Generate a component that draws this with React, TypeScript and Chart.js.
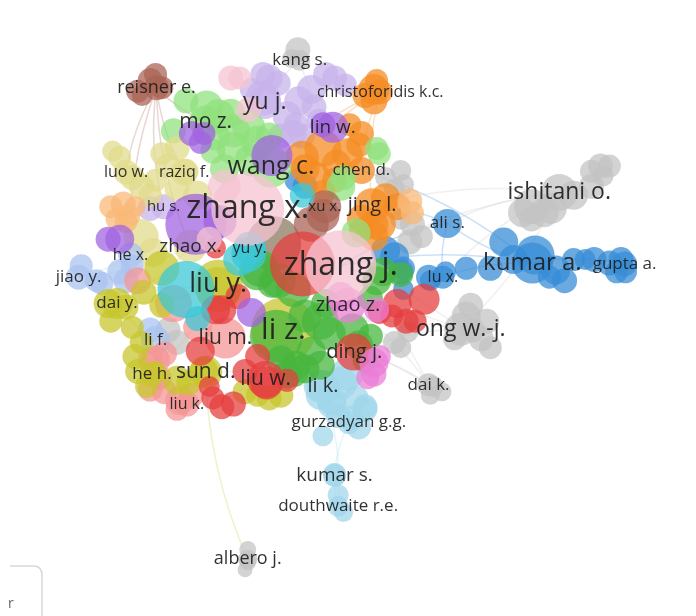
import React, { useEffect, useRef } from "react";
import { Chart, registerables } from "chart.js";

Chart.register(...registerables);

// Layout units: 1 unit = 10 px of the 696 x 616 map, y grows downward.
const X_EXTENT = 69.6;
const Y_EXTENT = 61.6;

// Cluster colours (r,g,b)
const clusterColors: Record<string, string> = {
  red: "230,62,62",
  green: "72,182,62",
  blue: "55,140,215",
  olive: "200,198,45",
  purple: "160,100,225",
  cyan: "60,200,215",
  orange: "245,140,35",
  brown: "170,100,85",
  magenta: "235,125,215",
  gray: "196,196,196",
  skyblue: "160,215,235",
  mint: "145,225,125",
  lavender: "200,180,235",
  salmon: "245,150,150",
  sand: "225,220,140",
  peach: "250,185,120",
  rose: "245,195,210",
  periwinkle: "170,195,240",
  taupe: "140,120,95",
};

// Labelled authors: [name, x, y, node size, font size, cluster]
const labelledAuthors: [string, number, number, number, number, string][] = [
  ["kang s.", 29.4, 2.7, 8, 17, "gray"],
  ["reisner e.", 13.4, 5.8, 10, 18, "brown"],
  ["yu j.", 25.5, 7.5, 14, 23, "lavender"],
  ["christoforidis k.c.", 38.4, 6.3, 10, 16, "orange"],
  ["mo z.", 18.9, 9.7, 14, 21, "mint"],
  ["lin w.", 33.1, 10.3, 13, 19, "purple"],
  ["wang c.", 26.2, 14.8, 18, 25, "mint"],
  ["luo w.", 10.0, 15.4, 10, 16, "sand"],
  ["raziq f.", 16.5, 15.4, 11, 16, "sand"],
  ["chen d.", 36.3, 15.2, 11, 17, "orange"],
  ["hu s.", 14.2, 19.3, 10, 15, "lavender"],
  ["zhang x.", 23.6, 19.6, 34, 32, "rose"],
  ["xu x.", 32.2, 19.3, 14, 15, "brown"],
  ["jing l.", 37.5, 19.2, 15, 20, "orange"],
  ["ali s.", 45.9, 21.2, 12, 17, "blue"],
  ["ishitani o.", 58.4, 17.7, 16, 23, "gray"],
  ["kumar a.", 55.4, 25.7, 18, 24, "blue"],
  ["gupta a.", 65.7, 25.8, 10, 17, "blue"],
  ["lu x.", 45.4, 27.3, 9, 16, "blue"],
  ["zhang j.", 34.0, 26.0, 33, 32, "rose"],
  ["he x.", 10.5, 24.8, 10, 16, "periwinkle"],
  ["zhao x.", 17.2, 23.8, 14, 19, "sand"],
  ["yu y.", 23.8, 24.0, 14, 16, "cyan"],
  ["jiao y.", 4.7, 27.3, 10, 17, "periwinkle"],
  ["liu y.", 20.3, 28.1, 22, 27, "olive"],
  ["zhao z.", 34.8, 30.5, 15, 20, "magenta"],
  ["ong w.-j.", 47.4, 33.2, 14, 23, "gray"],
  ["li z.", 27.6, 33.3, 30, 30, "olive"],
  ["dai y.", 9.0, 30.3, 13, 17, "olive"],
  ["li f.", 13.3, 34.5, 12, 17, "periwinkle"],
  ["liu m.", 21.1, 34.2, 18, 21, "salmon"],
  ["ding j.", 35.5, 35.8, 16, 20, "red"],
  ["he h.", 12.9, 38.3, 10, 17, "olive"],
  ["sun d.", 18.9, 38.1, 14, 21, "olive"],
  ["liu w.", 25.6, 38.9, 16, 21, "red"],
  ["li k.", 32.0, 39.7, 14, 20, "skyblue"],
  ["dai k.", 43.8, 39.5, 9, 17, "gray"],
  ["liu k.", 16.8, 41.7, 10, 16, "salmon"],
  ["gurzadyan g.g.", 34.9, 43.8, 9, 17, "skyblue"],
  ["kumar s.", 33.3, 49.8, 9, 19, "skyblue"],
  ["douthwaite r.e.", 33.7, 53.3, 8, 17, "skyblue"],
  ["albero j.", 23.6, 59.3, 7, 18, "gray"],
];

// Unlabelled authors per cluster: [x, y, node size]
const grayNodes = [
  [29.2, 1.5, 10], [28.5, 2.5, 7],
  [55.3, 19.3, 15], [54.3, 20.0, 12], [56.7, 20.0, 12], [60.0, 18.0, 12], [62.0, 17.0, 10],
  [63.0, 14.7, 10], [64.0, 14.7, 9], [62.0, 15.3, 9], [63.3, 15.8, 8], [55.3, 20.7, 10], [57.5, 19.5, 13],
  [40.7, 15.2, 8], [41.0, 16.8, 8], [40.0, 17.3, 8], [42.0, 21.3, 10], [41.7, 23.3, 10], [43.0, 22.7, 9],
  [40.7, 20.7, 8], [39.0, 16.0, 8],
  [48.0, 31.7, 12], [48.5, 30.5, 10], [50.3, 32.3, 10], [50.7, 35.3, 9], [46.7, 34.3, 9], [49.7, 34.3, 10], [48.7, 33.3, 10],
  [40.0, 34.7, 9], [40.7, 35.3, 8], [41.5, 33.5, 8],
  [44.3, 39.7, 8], [45.3, 40.3, 7], [44.0, 40.7, 7],
  [23.6, 58.2, 6], [23.6, 59.6, 6], [23.3, 60.5, 5],
  [15.7, 34.7, 10], [14.7, 33.3, 10],
];
const blueNodes = [
  [52.2, 23.3, 12], [55.7, 24.8, 17], [53.3, 25.3, 12], [50.7, 26.3, 10], [48.0, 26.3, 9], [45.7, 26.7, 8], [44.0, 27.7, 8],
  [58.0, 26.5, 12], [59.0, 27.7, 10], [57.3, 27.3, 9], [60.0, 25.3, 9], [61.3, 25.3, 8], [62.3, 25.3, 10],
  [64.0, 25.7, 10], [65.3, 25.3, 10], [65.8, 26.7, 9], [64.8, 26.7, 9],
  [40.0, 25.0, 12], [40.7, 26.7, 10], [39.0, 24.3, 12], [41.0, 26.3, 9], [43.8, 27.3, 10], [41.0, 28.7, 8],
  [30.0, 17.0, 10], [29.0, 16.3, 9],
];
const redNodes = [
  [29.7, 25.8, 30], [43.3, 29.8, 13], [40.3, 30.3, 12], [41.3, 32.3, 10], [39.7, 31.7, 9], [42.3, 32.3, 9], [38.3, 31.3, 9],
  [25.7, 39.3, 14], [20.7, 42.0, 10], [22.0, 41.7, 10], [19.7, 41.0, 9], [18.3, 35.7, 12], [19.3, 39.7, 8],
  [24.7, 36.3, 10], [20.0, 24.0, 8], [20.0, 31.0, 12], [20.7, 31.0, 12], [23.3, 38.0, 10], [28.0, 39.0, 9],
  [22.5, 29.5, 10],
];
const greenNodes = [
  [26.8, 34.0, 24], [24.7, 26.7, 16], [26.3, 28.0, 12], [28.7, 28.7, 15], [31.7, 32.3, 16], [32.7, 33.7, 14],
  [35.3, 33.3, 14], [36.0, 35.0, 12], [30.7, 35.7, 12], [31.7, 37.3, 12], [29.0, 37.3, 12], [28.0, 38.3, 12],
  [27.3, 36.7, 12], [36.7, 36.7, 10], [38.0, 27.7, 12], [38.7, 26.7, 12], [40.7, 27.0, 10], [37.3, 29.7, 10],
  [30.0, 31.7, 14], [32.3, 30.3, 12], [37.3, 34.0, 10], [27.0, 27.7, 15], [25.0, 26.3, 16], [28.7, 38.0, 13],
  [30.0, 37.7, 12],
];
const magentaNodes = [
  [38.0, 31.0, 10], [37.7, 37.0, 12], [37.7, 38.3, 10], [38.3, 36.3, 9], [37.0, 38.7, 9], [34.0, 29.5, 12],
];
const roseNodes = [
  [21.7, 4.7, 10], [22.7, 4.7, 9], [23.7, 8.3, 10], [19.3, 23.0, 10], [21.0, 17.0, 14],
];
const purpleNodes = [
  [32.0, 10.0, 10], [17.8, 21.3, 28], [9.3, 23.0, 12], [8.0, 23.0, 10], [17.3, 11.0, 10], [18.7, 11.0, 9],
  [18.3, 12.0, 9], [26.3, 13.5, 18], [24.0, 31.3, 12], [20.5, 21.0, 14],
];
const lavenderNodes = [
  [25.3, 7.0, 15], [26.0, 4.7, 11], [27.0, 5.3, 10], [30.7, 6.0, 12], [29.3, 7.3, 12], [28.0, 9.0, 12],
  [29.0, 10.0, 10], [31.0, 8.0, 10], [33.3, 4.7, 10], [32.3, 4.3, 10], [25.3, 4.3, 10], [29.7, 11.3, 10],
  [28.7, 11.0, 11], [27.3, 11.3, 10], [34.5, 5.5, 9], [31.5, 9.5, 9], [24.0, 6.0, 9], [12.7, 19.5, 10],
];
const orangeNodes = [
  [37.7, 6.0, 13], [36.7, 6.7, 10], [38.0, 5.0, 9], [37.7, 7.3, 11], [36.3, 11.0, 10], [35.0, 10.0, 9],
  [32.0, 12.7, 16], [29.7, 13.7, 14], [34.7, 13.3, 13], [31.0, 16.0, 14], [32.0, 17.7, 10], [36.0, 12.3, 10],
  [33.3, 16.3, 10], [39.0, 18.3, 12], [40.3, 19.3, 11], [36.3, 20.7, 12], [37.7, 21.3, 12], [38.3, 21.3, 14],
  [37.7, 22.7, 12], [36.3, 22.0, 10], [30.0, 15.0, 12], [33.5, 14.5, 12],
];
const mintNodes = [
  [16.7, 7.3, 10], [19.0, 8.0, 14], [20.3, 9.0, 14], [21.7, 8.7, 12], [15.3, 10.7, 10], [20.0, 11.3, 12],
  [22.0, 10.7, 14], [23.7, 10.3, 14], [24.7, 12.0, 14], [22.0, 12.7, 14], [19.7, 13.0, 10], [26.0, 11.3, 11],
  [38.0, 12.7, 9], [34.3, 16.0, 10], [34.0, 17.0, 12], [38.3, 13.3, 9], [35.7, 22.3, 12], [24.0, 14.0, 14],
  [21.0, 15.0, 12],
];
const oliveNodes = [
  [8.0, 30.3, 12], [10.0, 30.7, 10], [8.3, 32.3, 9], [10.7, 33.0, 9], [11.7, 34.7, 9], [11.0, 36.3, 10],
  [11.3, 38.0, 10], [12.3, 39.7, 9], [13.3, 38.0, 8], [15.7, 39.0, 12], [17.0, 39.3, 10], [18.7, 38.0, 12],
  [26.0, 41.0, 10], [27.3, 40.7, 10], [23.3, 40.3, 10], [24.7, 40.7, 9], [20.3, 28.7, 20], [14.0, 26.3, 15],
  [12.0, 29.0, 10], [14.0, 30.5, 10],
];
const cyanNodes = [
  [16.7, 28.7, 26], [23.7, 24.7, 15], [22.7, 25.3, 14], [29.7, 18.0, 10], [18.0, 32.0, 10],
];
const skyblueNodes = [
  [34.7, 38.3, 14], [34.0, 39.3, 14], [31.7, 40.7, 12], [35.7, 41.0, 10], [33.0, 41.7, 12], [36.7, 42.3, 10],
  [33.7, 43.0, 10], [35.0, 43.3, 10], [31.7, 39.7, 14], [33.0, 41.3, 12], [32.0, 45.3, 8], [36.0, 44.3, 10],
  [33.3, 49.7, 9], [33.7, 52.0, 8], [34.3, 54.0, 7], [36.7, 42.0, 10],
];
const salmonNodes = [
  [15.3, 30.3, 16], [13.3, 36.7, 12], [14.3, 40.3, 10], [16.0, 41.3, 12], [17.3, 40.7, 10], [12.7, 36.7, 10],
  [14.3, 36.0, 10], [13.7, 38.7, 10], [12.7, 40.0, 10], [11.3, 27.7, 11], [15.7, 42.3, 9], [18.0, 33.0, 12],
];
const sandNodes = [
  [9.3, 13.7, 9], [10.7, 16.0, 10], [11.7, 17.0, 10], [13.3, 16.3, 9], [14.7, 14.7, 10], [15.7, 12.7, 10],
  [14.0, 13.3, 9], [16.7, 15.3, 10], [15.7, 17.3, 10], [18.0, 18.0, 12], [12.7, 18.0, 9], [11.7, 22.7, 15],
  [13.0, 24.5, 12], [8.5, 13.0, 8],
];
const peachNodes = [
  [8.3, 19.3, 9], [9.7, 19.0, 10], [10.3, 20.3, 9], [9.0, 20.7, 9], [11.0, 19.3, 8], [10.0, 21.0, 9],
  [41.7, 18.7, 10], [42.0, 20.0, 9],
];
const periwinkleNodes = [
  [5.0, 26.0, 9], [6.7, 27.7, 9], [9.3, 26.7, 10], [7.3, 28.0, 9], [10.0, 27.7, 10], [10.7, 26.0, 9], [12.7, 33.3, 10],
];
const brownNodes = [
  [11.3, 6.2, 9], [12.7, 5.0, 10], [13.3, 4.3, 9], [14.0, 5.8, 9], [11.8, 6.7, 8], [30.7, 21.3, 15], [32.0, 20.3, 14],
];
const taupeNodes = [[26.5, 23.5, 25]];

// Co-authorship links between labelled authors
const links: [string, string][] = [
  ["reisner e.", "luo w."], ["reisner e.", "raziq f."], ["reisner e.", "zhao x."], ["reisner e.", "he x."],
  ["reisner e.", "mo z."], ["reisner e.", "hu s."],
  ["kang s.", "yu j."], ["kang s.", "lin w."],
  ["christoforidis k.c.", "lin w."], ["christoforidis k.c.", "jing l."], ["christoforidis k.c.", "wang c."],
  ["christoforidis k.c.", "chen d."],
  ["ali s.", "zhang j."], ["ali s.", "jing l."], ["ali s.", "lu x."], ["ali s.", "kumar a."],
  ["kumar a.", "zhang j."], ["kumar a.", "lu x."], ["kumar a.", "chen d."], ["gupta a.", "kumar a."],
  ["ishitani o.", "jing l."], ["ishitani o.", "zhang j."], ["ishitani o.", "ali s."],
  ["ishitani o.", "lu x."], ["ong w.-j.", "ishitani o."],
  ["ong w.-j.", "zhang j."], ["ong w.-j.", "zhao z."], ["ong w.-j.", "li z."], ["ong w.-j.", "ding j."],
  ["dai k.", "zhao z."], ["dai k.", "zhang j."], ["dai k.", "ding j."], ["dai k.", "li z."],
  ["sun d.", "albero j."],
  ["jiao y.", "he x."], ["jiao y.", "zhao x."], ["jiao y.", "liu y."], ["jiao y.", "dai y."],
  ["dai y.", "liu y."], ["dai y.", "li f."], ["dai y.", "zhao x."], ["he h.", "liu y."],
  ["gurzadyan g.g.", "li k."], ["gurzadyan g.g.", "kumar s."], ["gurzadyan g.g.", "li z."],
  ["kumar s.", "douthwaite r.e."], ["douthwaite r.e.", "li k."],
  ["li k.", "liu w."], ["li k.", "liu k."], ["li k.", "li z."], ["li k.", "sun d."],
];

const clusterNodes: [string, number[][]][] = [
  ["taupe", taupeNodes], ["gray", grayNodes], ["blue", blueNodes], ["lavender", lavenderNodes],
  ["orange", orangeNodes], ["mint", mintNodes], ["sand", sandNodes], ["peach", peachNodes],
  ["periwinkle", periwinkleNodes], ["brown", brownNodes], ["skyblue", skyblueNodes], ["salmon", salmonNodes],
  ["olive", oliveNodes], ["green", greenNodes], ["red", redNodes], ["magenta", magentaNodes],
  ["cyan", cyanNodes], ["purple", purpleNodes], ["rose", roseNodes],
];

const NODE_ALPHA = 0.74;
// extra pixels added to every node radius
const NODE_PAD = 2.5;

export default function App() {
  const canvasRef = useRef<HTMLCanvasElement | null>(null);

  useEffect(() => {
    const canvas = canvasRef.current;
    if (!canvas) return;

    // Chart.js paints dataset 0 last, so the list is reversed to keep the order above.
    const datasets = clusterNodes
      .slice()
      .reverse()
      .map(([name, nodes]) => {
        const pts = nodes.map(([x, y, r]) => ({ x, y, r: r + NODE_PAD }));
        labelledAuthors
          .filter((a) => a[5] === name)
          .forEach((a) => pts.push({ x: a[1], y: a[2], r: a[3] + NODE_PAD }));
        return {
          label: name,
          data: pts,
          backgroundColor: `rgba(${clusterColors[name]},${NODE_ALPHA})`,
          borderWidth: 0,
        };
      });

    const byName: Record<string, [string, number, number, number, number, string]> = {};
    labelledAuthors.forEach((a) => (byName[a[0]] = a));

    const linkPlugin = {
      id: "links",
      beforeDatasetsDraw(chart: any) {
        const { ctx, scales } = chart;
        ctx.save();
        ctx.lineWidth = 1.5;
        links.forEach(([a, b]) => {
          const s = byName[a];
          const t = byName[b];
          if (!s || !t) return;
          const x1 = scales.x.getPixelForValue(s[1]);
          const y1 = scales.y.getPixelForValue(s[2]);
          const x2 = scales.x.getPixelForValue(t[1]);
          const y2 = scales.y.getPixelForValue(t[2]);
          const bend = 0.1;
          const cx = (x1 + x2) / 2 - (y2 - y1) * bend;
          const cy = (y1 + y2) / 2 + (x2 - x1) * bend;
          ctx.strokeStyle = `rgba(${clusterColors[s[5]]},0.26)`;
          ctx.beginPath();
          ctx.moveTo(x1, y1);
          ctx.quadraticCurveTo(cx, cy, x2, y2);
          ctx.stroke();
        });
        ctx.restore();
      },
    };

    const labelPlugin = {
      id: "authorLabels",
      afterDatasetsDraw(chart: any) {
        const { ctx, scales } = chart;
        ctx.save();
        ctx.textAlign = "center";
        ctx.textBaseline = "middle";
        ctx.fillStyle = "rgba(30,30,30,0.92)";
        labelledAuthors.forEach(([name, x, y, , fs]) => {
          ctx.font = `${fs}px "Open Sans", "Noto Sans", sans-serif`;
          ctx.fillText(name, scales.x.getPixelForValue(x), scales.y.getPixelForValue(y));
        });
        ctx.restore();
      },
    };

    // Corner of the viewer's control panel at the lower left
    const panelPlugin = {
      id: "panelCorner",
      afterDraw(chart: any) {
        const { ctx, height } = chart;
        ctx.save();
        ctx.strokeStyle = "rgba(215,215,215,1)";
        ctx.lineWidth = 1.5;
        ctx.beginPath();
        ctx.moveTo(10, 566);
        ctx.lineTo(33, 566);
        ctx.quadraticCurveTo(42, 566, 42, 575);
        ctx.lineTo(42, height);
        ctx.stroke();
        ctx.fillStyle = "rgba(60,60,60,0.8)";
        ctx.font = '14px "Open Sans", sans-serif';
        ctx.textAlign = "left";
        ctx.textBaseline = "middle";
        ctx.fillText("r", 8, 604);
        ctx.restore();
      },
    };

    const chart = new Chart(canvas, {
      type: "bubble",
      data: { datasets },
      options: {
        animation: false,
        responsive: false,
        layout: { padding: 0 },
        events: [],
        clip: false as any,
        plugins: {
          legend: { display: false },
          tooltip: { enabled: false },
        },
        scales: {
          x: { type: "linear", min: 0, max: X_EXTENT, display: false },
          y: { type: "linear", min: 0, max: Y_EXTENT, reverse: true, display: false },
        },
      },
      plugins: [linkPlugin, labelPlugin, panelPlugin],
    });

    return () => chart.destroy();
  }, []);

  return (
    <div style={{ position: "absolute", left: 0, top: 0, width: 696, height: 616, background: "#fff" }}>
      <canvas ref={canvasRef} width={696} height={616} />
    </div>
  );
}
